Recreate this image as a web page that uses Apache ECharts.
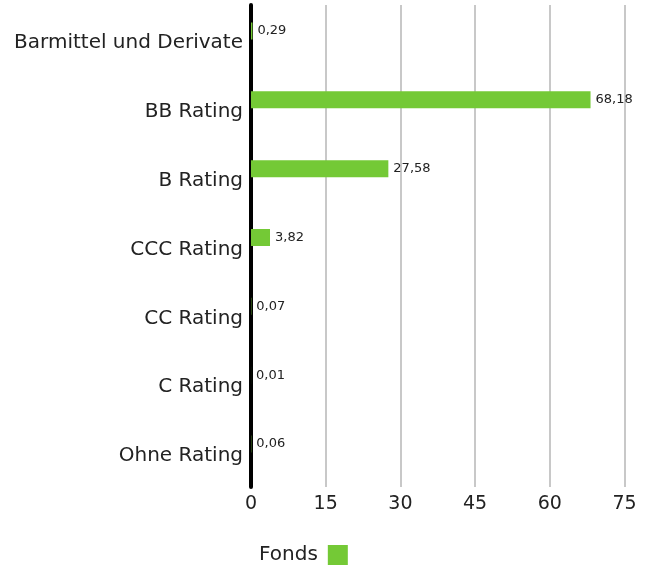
<!DOCTYPE html>
<html>
<head>
<meta charset="utf-8">
<script src="https://cdn.jsdelivr.net/npm/echarts@6/dist/echarts.min.js"></script>
<style>html,body{margin:0;padding:0;background:#fff}#c{width:651px;height:567px}</style>
</head>
<body>
<div id="c"></div>
<script>
var categories = ["Barmittel und Derivate", "BB Rating", "B Rating", "CCC Rating", "CC Rating", "C Rating", "Ohne Rating"];
var fondsValues = [0.29, 68.18, 27.58, 3.82, 0.07, 0.01, 0.06];
var benchmarkValues = [null, null, null, null, null, null, null];
var xTicks = [0, 15, 30, 45, 60, 75];

var FONT = "DejaVu Sans";
var chart = echarts.init(document.getElementById('c'), null, {renderer: 'canvas'});
chart.setOption({
  animation: false,
  textStyle: {fontFamily: FONT},
  legend: {
    data: ['Fonds'],
    left: 254, top: 540,
    align: 'right',
    itemWidth: 20, itemHeight: 20, itemGap: 10,
    icon: 'rect',
    textStyle: {fontSize: 20, color: '#222', fontFamily: FONT, padding: [0, 5, 0, 0]}
  },
  grid: {left: 251, right: 26.5, top: 5, bottom: 80, containLabel: false},
  xAxis: {
    type: 'value', min: xTicks[0], max: xTicks[xTicks.length - 1], interval: 15,
    axisLine: {show: false}, axisTick: {show: false},
    splitLine: {show: true, lineStyle: {color: '#c8c8c8', width: 2}},
    axisLabel: {fontSize: 19, color: '#222', margin: 8, fontFamily: FONT}
  },
  yAxis: {
    type: 'category', data: categories, inverse: true,
    axisLine: {show: true, lineStyle: {color: '#000', width: 4}},
    axisTick: {show: false},
    axisLabel: {
      fontSize: 20, color: '#222', margin: 8, fontFamily: FONT,
      formatter: function (v) { return '{a|' + v + '}'; },
      rich: {a: {fontSize: 20, color: '#222', fontFamily: FONT, padding: [7, 0, 0, 0]}}
    }
  },
  series: [
    {
      name: 'Fonds', type: 'bar', data: fondsValues, barWidth: 17, barGap: '0%',
      itemStyle: {color: '#74c936'},
      label: {
        show: true, position: 'right', distance: 5, fontSize: 13, color: '#222', fontFamily: FONT,
        formatter: function (p) { return p.value.toFixed(2).replace('.', ','); }
      }
    },
    {
      name: 'Benchmark', type: 'bar', data: benchmarkValues, barWidth: 17, barGap: '0%',
      itemStyle: {color: '#999'}
    }
  ]
});
</script>
</body>
</html>
